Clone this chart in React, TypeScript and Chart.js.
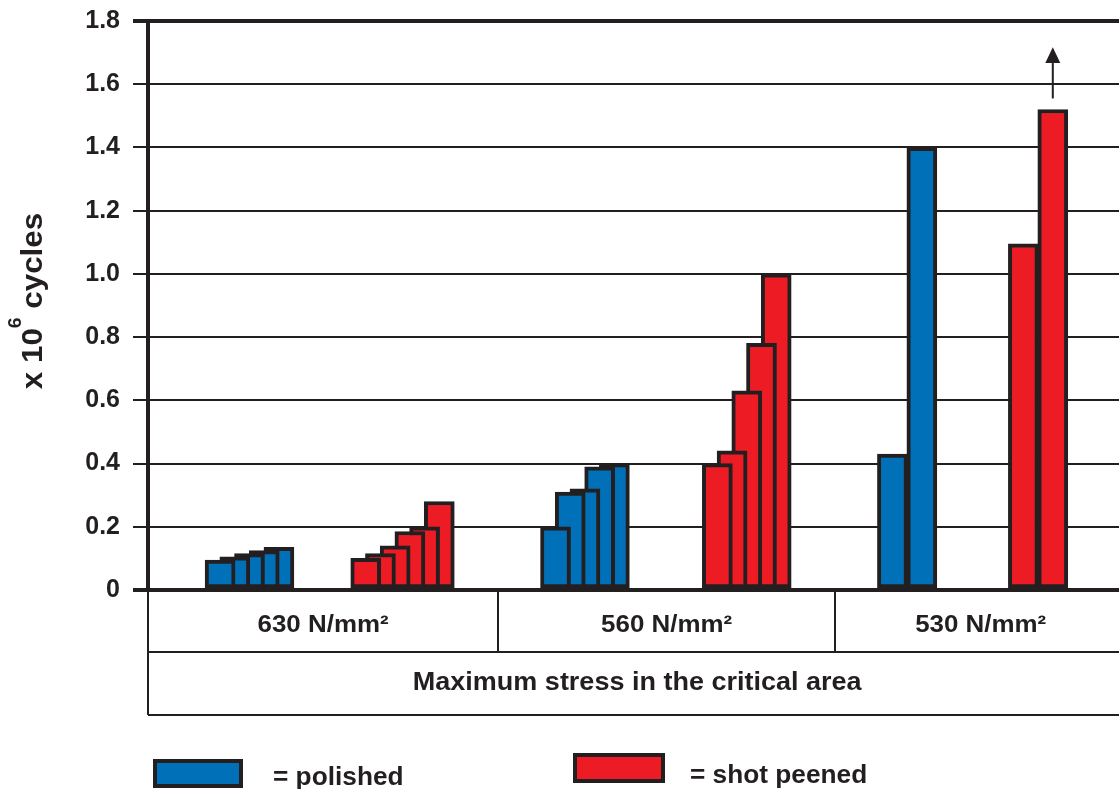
import { useEffect, useRef } from 'react';
import { Chart, registerables } from 'chart.js';

Chart.register(...registerables);

// Fatigue life in 10^6 cycles, one bar per specimen, grouped by stress level
const stressLevels = ['630 N/mm²', '560 N/mm²', '530 N/mm²'];
const polishedCycles = [
  [0.095, 0.105, 0.115, 0.125, 0.135],
  [0.2, 0.31, 0.32, 0.39, 0.4],
  [0.43, 1.4],
];
const shotPeenedCycles = [
  [0.1, 0.115, 0.14, 0.185, 0.2, 0.28],
  [0.4, 0.44, 0.63, 0.78, 1.0],
  [1.095, 1.52],
];
const yTicks = [0, 0.2, 0.4, 0.6, 0.8, 1.0, 1.2, 1.4, 1.6, 1.8];
const yTickLabels = ['0', '0.2', '0.4', '0.6', '0.8', '1.0', '1.2', '1.4', '1.6', '1.8'];
const tableTitle = 'Maximum stress in the critical area';
const seriesLabels = ['= polished', '= shot peened'];

const INK = '#231f20';
const BLUE = '#0070b8';
const RED = '#ed1c24';
const FONT = '"Liberation Sans", Arial, Helvetica, sans-serif';

// x axis is measured in "slots": one slot = the offset between overlapping bars
const SLOTS = 66;
const groupLayout = [
  { polished: 4.9, peened: 14.8, step: 1, cellEnd: 23.8 },
  { polished: 27.7, peened: 38.7, step: 1, cellEnd: 46.7 },
  { polished: 50.6, peened: 59.5, step: 2, cellEnd: 66.5 },
];

function toPoints(values: number[][], key: 'polished' | 'peened') {
  const pts: { x: number; y: number }[] = [];
  values.forEach((group, g) => {
    const lay = groupLayout[g];
    // right-most bar first, so each bar to its left is painted on top of it
    for (let i = group.length - 1; i >= 0; i--) {
      pts.push({ x: lay[key] + i * lay.step, y: group[i] });
    }
  });
  return pts;
}

function stretchedText(ctx: CanvasRenderingContext2D, text: string, x: number, y: number, sx: number, align: 'left' | 'center') {
  const w = ctx.measureText(text).width * sx;
  ctx.save();
  ctx.translate(align === 'center' ? x - w / 2 : x, y);
  ctx.scale(sx, 1);
  ctx.textAlign = 'left';
  ctx.fillText(text, 0, 0);
  ctx.restore();
}

const decorations = {
  id: 'decorations',
  afterDraw(chart: any) {
    const { ctx, chartArea, scales } = chart;
    const { x, y } = scales;
    const top = chartArea.bottom;
    const mid = top + 62;
    const bottom = top + 125;
    const left = chartArea.left;
    const right = chart.width;

    ctx.save();
    ctx.strokeStyle = INK;
    ctx.fillStyle = INK;
    ctx.lineWidth = 2;

    // table under the axis
    ctx.beginPath();
    ctx.moveTo(left, top);
    ctx.lineTo(left, bottom);
    ctx.moveTo(left, mid);
    ctx.lineTo(right, mid);
    ctx.moveTo(left, bottom);
    ctx.lineTo(right, bottom);
    groupLayout.slice(0, -1).forEach((lay) => {
      const px = Math.round(x.getPixelForValue(lay.cellEnd));
      ctx.moveTo(px, top);
      ctx.lineTo(px, mid);
    });
    ctx.stroke();

    ctx.textBaseline = 'alphabetic';
    ctx.font = `bold 24px ${FONT}`;
    let cellStart = 0;
    stressLevels.forEach((label, g) => {
      const a = x.getPixelForValue(cellStart);
      const b = x.getPixelForValue(groupLayout[g].cellEnd);
      stretchedText(ctx, label, (a + b) / 2, top + 42, 1.08, 'center');
      cellStart = groupLayout[g].cellEnd;
    });
    ctx.font = `bold 25px ${FONT}`;
    const tableEnd = x.getPixelForValue(groupLayout[groupLayout.length - 1].cellEnd);
    stretchedText(ctx, tableTitle, (left + tableEnd) / 2, mid + 38, 1.08, 'center');

    // arrow: last shot peened value runs off the top
    const last = groupLayout[2];
    const ax = x.getPixelForValue(last.peened + last.step);
    const y0 = y.getPixelForValue(1.555);
    const yBase = y.getPixelForValue(1.667);
    const yTip = y.getPixelForValue(1.717);
    ctx.beginPath();
    ctx.moveTo(ax, y0);
    ctx.lineTo(ax, yBase);
    ctx.stroke();
    ctx.beginPath();
    ctx.moveTo(ax, yTip);
    ctx.lineTo(ax - 7.5, yBase);
    ctx.lineTo(ax + 7.5, yBase);
    ctx.closePath();
    ctx.fill();

    // y axis title with superscript
    ctx.save();
    ctx.translate(42, 301);
    ctx.rotate(-Math.PI / 2);
    const sx = 1.08;
    ctx.font = `bold 29px ${FONT}`;
    const w1 = ctx.measureText('x 10').width;
    const w3 = ctx.measureText(' cycles').width;
    ctx.font = `bold 18px ${FONT}`;
    const w2 = ctx.measureText('6').width;
    ctx.scale(sx, 1);
    let cx = -(w1 + w2 + w3) / 2;
    ctx.textAlign = 'left';
    ctx.font = `bold 29px ${FONT}`;
    ctx.fillText('x 10', cx, 0);
    cx += w1;
    ctx.font = `bold 18px ${FONT}`;
    ctx.fillText('6', cx, -21);
    cx += w2;
    ctx.font = `bold 29px ${FONT}`;
    ctx.fillText(' cycles', cx, 0);
    ctx.restore();

    // legend
    const items = [
      { color: BLUE, box: [153, 759, 90, 29], textX: 273, base: 785 },
      { color: RED, box: [573, 753, 92, 30], textX: 690, base: 783 },
    ];
    ctx.font = `bold 25px ${FONT}`;
    items.forEach((it, i) => {
      const [bx, by, bw, bh] = it.box;
      ctx.fillStyle = INK;
      ctx.fillRect(bx, by, bw, bh);
      ctx.fillStyle = it.color;
      ctx.fillRect(bx + 4, by + 4, bw - 8, bh - 8);
      ctx.fillStyle = INK;
      stretchedText(ctx, seriesLabels[i], it.textX, it.base, 1.05, 'left');
    });
    ctx.restore();
  },
};

export default function App() {
  const canvasRef = useRef<HTMLCanvasElement>(null);

  useEffect(() => {
    const ctx = canvasRef.current?.getContext('2d');
    if (!ctx) return;
    const barStyle = {
      borderColor: INK,
      borderWidth: 4,
      borderSkipped: false,
      barThickness: 30,
      grouped: false,
    };
    const chart = new Chart(ctx, {
      type: 'bar',
      data: {
        datasets: [
          { label: 'polished', data: toPoints(polishedCycles, 'polished'), backgroundColor: BLUE, ...barStyle },
          { label: 'shot peened', data: toPoints(shotPeenedCycles, 'peened'), backgroundColor: RED, ...barStyle },
        ] as any,
      },
      options: {
        animation: false,
        responsive: true,
        maintainAspectRatio: false,
        layout: { padding: { top: 21, bottom: 199, left: 0, right: 0 } },
        plugins: {
          legend: { display: false },
          tooltip: { enabled: false },
        },
        scales: {
          x: { type: 'linear', min: 0, max: SLOTS, display: false, offset: false },
          y: {
            min: 0,
            max: 1.8,
            afterFit: (scale: any) => {
              scale.width = 148;
              scale.paddingTop = 0;
              scale.paddingBottom = 0;
            },
            afterBuildTicks: (scale: any) => {
              scale.ticks = yTicks.map((v) => ({ value: v }));
            },
            ticks: {
              callback: (_v: any, i: number) => yTickLabels[i],
              font: { family: FONT, size: 25, weight: 'bold' },
              color: INK,
              padding: 13,
            },
            grid: {
              color: INK,
              lineWidth: (c: any) => (c.tick && (c.tick.value === 0 || Math.abs(c.tick.value - 1.8) < 1e-6) ? 4 : 2),
              tickLength: 15,
            },
            border: { width: 4, color: INK },
          },
        },
      } as any,
      plugins: [decorations],
    });
    return () => chart.destroy();
  }, []);

  return (
    <div style={{ width: 1119, height: 789, position: 'relative', background: '#fff' }}>
      <style>{'body { margin: 0; }'}</style>
      <canvas ref={canvasRef} />
    </div>
  );
}
